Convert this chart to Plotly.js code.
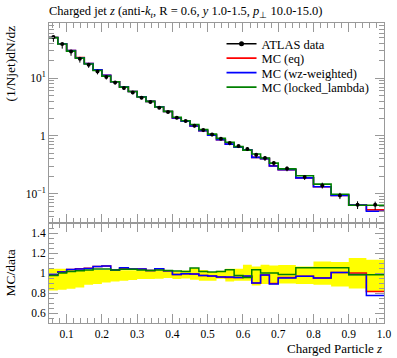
<!DOCTYPE html>
<html><head><meta charset="utf-8">
<script src="https://cdn.plot.ly/plotly-3.0.1.min.js"></script>
<style>html,body{margin:0;padding:0;background:#fff}</style>
</head><body><div id="chart" style="width:397px;height:358px"></div>
<script>
// Bin edges of the Charged Particle z histogram
const binEdges = [0.05,0.075,0.1,0.125,0.15,0.175,0.2,0.225,0.25,0.275,0.3,0.325,0.35,0.375,0.4,0.425,0.45,0.475,0.5,0.525,0.55,0.575,0.6,0.625,0.65,0.675,0.7,0.75,0.8,0.85,0.9,0.95,1.0];
// ATLAS data (1/Njet)dN/dz
const dataValues = [51.2,38.7,28.8,21.6,17.0,13.0,10.4,8.39,6.72,5.64,4.56,3.85,3.06,2.58,2.06,1.80,1.50,1.26,1.06,0.891,0.750,0.667,0.592,0.471,0.413,0.338,0.273,0.194,0.139,0.0931,0.0643,0.0643];
// relative data uncertainty band (upper / lower edge of yellow band in ratio)
const bandUpper = [1.043,1.043,1.036,1.033,1.03,1.03,1.03,1.03,1.028,1.028,1.027,1.027,1.027,1.026,1.016,1.025,1.05,1.03,1.01,1.023,1.043,1.043,1.083,1.066,1.083,1.076,1.08,1.066,1.116,1.11,1.15,1.133];
const bandLower = [0.826,0.833,0.843,0.856,0.883,0.89,0.906,0.916,0.923,0.93,0.94,0.94,0.943,0.95,0.94,0.945,0.933,0.923,0.923,0.943,0.916,0.923,0.923,0.876,0.89,0.9,0.895,0.89,0.883,0.866,0.845,0.82];
// MC / data ratios
const ratioEq = [0.98,1.012,1.036,1.042,1.048,1.066,1.07,1.03,1.048,1.04,1.04,1.026,1.043,1.023,0.985,0.993,0.99,0.976,0.97,0.96,0.955,0.955,0.965,0.9,0.98,0.895,0.955,0.967,0.95,1.006,1.0,0.815];
const ratioWz = [0.98,1.01,1.036,1.04,1.046,1.066,1.07,1.03,1.053,1.04,1.04,1.026,1.043,1.023,0.986,0.993,0.99,0.976,0.97,0.96,0.96,0.955,0.97,0.9,0.98,0.89,0.95,0.967,0.95,1.006,0.985,0.775];
const ratioLocked = [0.975,1.0,1.016,1.023,1.03,1.04,1.04,1.03,1.037,1.037,1.03,1.026,1.03,1.026,1.02,1.015,1.05,1.016,1.01,1.016,1.033,0.976,0.956,1.033,1.0,1.0,0.985,1.053,1.053,1.053,0.983,0.983];
const legendNames = ['ATLAS data','MC (eq)','MC (wz-weighted)','MC (locked_lambda)'];
const colors = {eq:'#ff0000', wz:'#0000ff', locked:'#008000'};

const centers = dataValues.map((v,i)=>(binEdges[i]+binEdges[i+1])/2);
const stepY = a => a.concat([a[a.length-1]]);
const mcEq = dataValues.map((v,i)=>v*ratioEq[i]);
const mcWz = dataValues.map((v,i)=>v*ratioWz[i]);
const mcLocked = dataValues.map((v,i)=>v*ratioLocked[i]);

const FONT = 'Liberation Serif, serif';
const traces = [];
// ratio band
traces.push({x:binEdges, y:stepY(bandLower), xaxis:'x2', yaxis:'y2', mode:'lines', line:{shape:'hv', width:0, color:'#ffff00'}, showlegend:false, hoverinfo:'skip'});
traces.push({x:binEdges, y:stepY(bandUpper), xaxis:'x2', yaxis:'y2', mode:'lines', line:{shape:'hv', width:0, color:'#ffff00'}, fill:'tonexty', fillcolor:'#ffff00', showlegend:false, hoverinfo:'skip'});
// legend entry for data (line + dot)
traces.push({x:[null], y:[null], mode:'lines+markers', name:legendNames[0], line:{color:'#000', width:1.5}, marker:{color:'#000', size:5}, xaxis:'x', yaxis:'y', legend:'legend'});
// top panel MC
const mcSets = [[mcEq,colors.eq,legendNames[1],'legend2'],[mcWz,colors.wz,legendNames[2],'legend3'],[mcLocked,colors.locked,legendNames[3],'legend4']];
mcSets.forEach(([vals,c,n,lg])=>{
  traces.push({x:binEdges, y:stepY(vals), mode:'lines', line:{shape:'hv', color:c, width:1.6}, name:n, xaxis:'x', yaxis:'y', legend:lg});
});
// ratio MC lines
[[ratioEq,colors.eq],[ratioWz,colors.wz],[ratioLocked,colors.locked]].forEach(([vals,c])=>{
  traces.push({x:binEdges, y:stepY(vals), mode:'lines', line:{shape:'hv', color:c, width:1.5}, showlegend:false, xaxis:'x2', yaxis:'y2'});
});
// data points
traces.push({x:centers, y:dataValues, mode:'markers', marker:{color:'#000', size:4}, showlegend:false,
  error_y:{type:'data', symmetric:false, array:dataValues.map((v,i)=>v*(bandUpper[i]-1)), arrayminus:dataValues.map((v,i)=>v*(1-bandLower[i])), color:'#000', thickness:1, width:0},
  xaxis:'x', yaxis:'y'});

const axCommon = {showline:true, mirror:'allticks', linecolor:'#999', linewidth:1, ticks:'inside', tickcolor:'#999', ticklen:9, tickwidth:1, zeroline:false, showgrid:false,
  tickfont:{family:FONT, size:11.5, color:'#000'}};
const legBase = {x:0.515, xanchor:'left', yanchor:'middle', bgcolor:'rgba(0,0,0,0)', borderwidth:0, font:{family:FONT, size:12.5, color:'#000'}};
const legY = [44, 58.5, 73, 87.5].map(p=>(358-35-p)/300);
const layout = {
  width:397, height:358, margin:{l:49, r:13, t:23, b:35},
  paper_bgcolor:'#fff', plot_bgcolor:'#fff',
  font:{family:FONT, size:12, color:'#000'},
  title:{text:'Charged jet <i>z</i> (anti-<i>k</i><sub><i>t</i></sub>, R = 0.6, <i>y</i> 1.0-1.5, <i>p</i><sub>⊥</sub> 10.0-15.0)', x:49/397, xanchor:'left', xref:'container', y:1-11/358, yanchor:'middle', yref:'container', font:{family:FONT, size:12.5, color:'#000'}},
  xaxis:Object.assign({}, axCommon, {range:[0.05,1.0], domain:[0,1], anchor:'y', dtick:0.1, tick0:0, showticklabels:false, minor:{dtick:0.02, ticklen:5, tickcolor:'#999', ticks:'inside'}}),
  yaxis:Object.assign({}, axCommon, {type:'log', range:[-1.507,1.952], domain:[1/3,1], anchor:'x', tickvals:[0.1,1,10], ticktext:['10<sup>−1</sup>','1','10<sup>1</sup>'], minor:{dtick:'D1', ticklen:5, tickcolor:'#999', ticks:'inside'}}),
  xaxis2:Object.assign({}, axCommon, {range:[0.05,1.0], domain:[0,1], anchor:'y2', dtick:0.1, tick0:0, tickformat:'.1f', minor:{dtick:0.02, ticklen:5, tickcolor:'#999', ticks:'inside'}}),
  yaxis2:Object.assign({}, axCommon, {range:[0.5,1.5], domain:[0,1/3], anchor:'x2', tickvals:[0.6,0.8,1,1.2,1.4], minor:{dtick:0.05, ticklen:5, tickcolor:'#999', ticks:'inside'}}),
  legend:Object.assign({}, legBase, {y:legY[0]}),
  legend2:Object.assign({}, legBase, {y:legY[1]}),
  legend3:Object.assign({}, legBase, {y:legY[2]}),
  legend4:Object.assign({}, legBase, {y:legY[3]}),
  annotations:[
    {text:'(1/Njet)dN/dz', textangle:-90, xref:'paper', yref:'paper', x:-0.115, y:1, xanchor:'center', yanchor:'top', showarrow:false, font:{family:FONT, size:13.5}},
    {text:'MC/data', textangle:-90, xref:'paper', yref:'paper', x:-0.115, y:1/6, xanchor:'center', yanchor:'middle', showarrow:false, font:{family:FONT, size:13.5}},
    {text:'Charged Particle <i>z</i>', xref:'paper', yref:'paper', x:1, y:-0.086, xanchor:'right', yanchor:'middle', showarrow:false, font:{family:FONT, size:13}}
  ]
};
Plotly.newPlot('chart', traces, layout, {displayModeBar:false, staticPlot:true});
</script></body></html>
